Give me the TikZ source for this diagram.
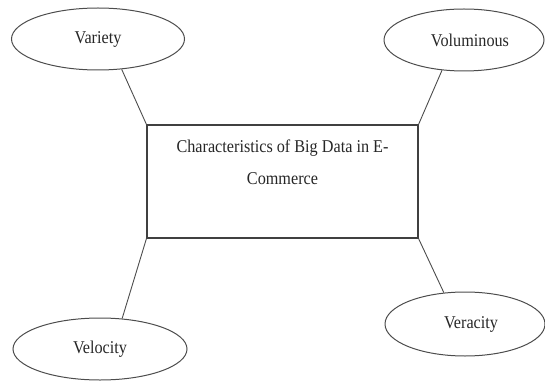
\documentclass[tikz,border=0pt]{standalone}
\usepackage{fontspec}
\usetikzlibrary{shapes.geometric}
\newfontfamily\letra[FakeStretch=0.9]{Liberation Serif}

\tikzset{
	caract/.style={ellipse, draw=black!70, line width=1pt, inner sep=0pt, text=black!85},
	enlace/.style={draw=black!70, line width=0.9pt}
}

\begin{document}
\begin{tikzpicture}[x=1pt, y=-1pt, font=\letra\fontsize{18}{32}\selectfont]

\useasboundingbox (0,0) rectangle (545,382);

% Caja central
\node[draw=black!75, line width=1.1pt, minimum width=271, minimum height=113, inner sep=0pt] (caja) at (282.5,181.5) {};
\node[align=center, anchor=base, text=black!85] (titulo) at (282.5,184) {Characteristics of Big Data in E-\\Commerce};

% Elipses
\node[caract, minimum width=173, minimum height=62] (var) at (98,39) {Variety};
\node[caract, minimum width=160, minimum height=62] (vol) at (464,40) {\hspace{12pt}Voluminous};
\node[caract, minimum width=174, minimum height=62] (vel) at (100,349) {Velocity};
\node[caract, minimum width=160, minimum height=64] (ver) at (465,324) {\hspace{12pt}Veracity};

% Uniones
\foreach \n/\a/\c in {var/-52/north west, vol/-126/north east, vel/54/south west, ver/124/south east}
	\draw[enlace] (\n.\a) -- (caja.\c);

\end{tikzpicture}
\end{document}
